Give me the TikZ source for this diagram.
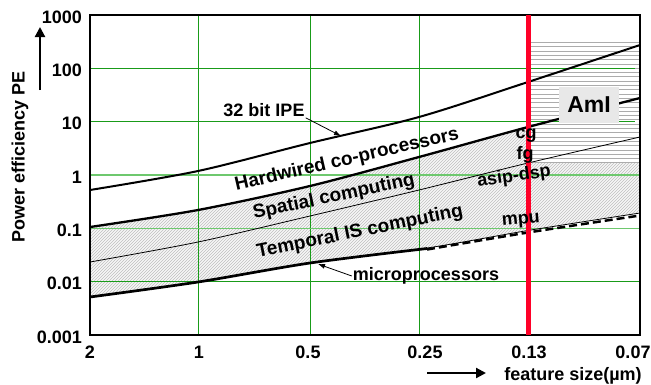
\documentclass[tikz,border=0pt]{standalone}
\usepackage{fontspec}
\setmainfont{Liberation Sans}
\usetikzlibrary{arrows,arrows.meta,patterns}

\definecolor{gridgreen}{RGB}{25,155,25}
\definecolor{litegreen}{RGB}{110,200,110}
\definecolor{amired}{RGB}{255,0,40}
\definecolor{amigray}{RGB}{232,232,232}

\tikzset{
  plotfont/.style={font=\fontsize{18}{20}\selectfont\bfseries},
  bandfont/.style={font=\fontsize{19}{21}\selectfont\bfseries, inner sep=0pt},
  ytick/.style={plotfont, anchor=east, inner sep=0pt},
  xtick/.style={plotfont, inner sep=0pt},
  gridline/.style={draw=gridgreen, line width=0.9pt},
  gridlite/.style={draw=litegreen, line width=1.6pt},
  hatchline/.style={draw=gray!65, line width=1pt},
  thickcurve/.style={line width=2.3pt},
  thincurve/.style={line width=0.8pt},
  pointer/.style={line width=0.8pt, -{Latex[length=7pt,width=5pt]}},
  axisarrow/.style={line width=2.2pt, -{Triangle[length=10pt,width=10pt]}}
}

\begin{document}
\begin{tikzpicture}[x=1pt,y=-1pt]
\useasboundingbox (0,0) rectangle (651,384);

% hatched band between spatial top and temporal bottom
\fill[fill=gray!6] plot[smooth] coordinates {(90,227) (198,210) (310,186) (419,157) (528,127) (640,98)}
  -- plot[smooth] coordinates {(640,213) (528,230.5) (427,248) (310,263) (198,282) (90,297)} -- cycle;
\fill[pattern=north east lines, pattern color=gray!50] plot[smooth] coordinates {(90,227) (198,210) (310,186) (419,157) (528,127) (640,98)}
  -- plot[smooth] coordinates {(640,213) (528,230.5) (427,248) (310,263) (198,282) (90,297)} -- cycle;

% AmI region
\fill[white] (531,42) rectangle (640,163);
\foreach \yy in {42.5,46.8,...,163}
  \draw[hatchline] (531,\yy) -- (640,\yy);

% grid
\foreach \xx in {198,310,419}
  \draw[gridline] (\xx,15) -- (\xx,335);
\draw[gridline] (90,68.3) -- (635,68.3);
\draw[gridline] (90,121.7) -- (635,121.7);
\draw[gridlite] (90,175) -- (640,175);
\draw[gridlite] (90,228.3) -- (640,228.3);
\draw[gridline] (90,281.7) -- (640,281.7);

% curves
\draw[line width=2pt] plot[smooth] coordinates {(90,190) (198,171) (310,143) (419,117) (528,82) (640,45)};
\draw[thickcurve] plot[smooth] coordinates {(90,227) (198,210) (310,186) (419,157) (528,127) (640,98)};
\draw[thincurve] plot[smooth] coordinates {(90,262) (198,242) (310,216) (419,190) (528,163) (640,137)};
\draw[thincurve] plot[smooth] coordinates {(90,297) (198,282) (310,263) (427,248) (528,230.5) (640,213)};
\draw[line width=2.7pt] plot[smooth] coordinates {(90,297) (198,282) (310,263) (427,248.5)};
\draw[line width=2.5pt, dash pattern=on 8pt off 4pt] plot[smooth] coordinates {(427,249.5) (528,232.5) (640,215.5)};

% frame and 0.13 marker
\draw[line width=2.6pt] (90,15) rectangle (640,335);
\draw[amired, line width=4.5pt] (528.5,15) -- (528.5,335);

% ticks
\foreach \lab [count=\i from 0] in {1000,100,10,1,0.1,0.01,0.001}
  \node[ytick] (yt\i) at (82,{17+53.333*\i}) {\lab};
\foreach \xx/\lab [count=\i from 0] in {90/2,199/1,308/0.5,425/0.25,529/0.13,633/0.07}
  \node[xtick] (xt\i) at (\xx,352) {\lab};

% axis titles
\node[plotfont, rotate=90, inner sep=0pt] (ylabel) at (20,157) {Power efficiency PE};
\coordinate (ybot) at (40,90);
\coordinate (ytop) at (40,27);
\draw[axisarrow] (ybot) -- (ytop);
\node[plotfont, inner sep=0pt] (xlabel) at (573,376) {feature size(µm)};
\coordinate (xleft) at (427,373);
\coordinate (xright) at (486,373);
\draw[axisarrow] (xleft) -- (xright);

% labels
\node[amigray, fill=amigray, minimum width=60pt, minimum height=36pt] (amibox) at (589,105) {};
\node[font=\fontsize{23}{25}\selectfont\bfseries] (ami) at (589,105) {AmI};
\node[bandfont, rotate=13] (hardwired) at (347,160) {Hardwired co-processors};
\node[bandfont, rotate=12] (spatial) at (334,197) {Spatial computing};
\node[bandfont, rotate=11.5] (temporal) at (360,232) {Temporal IS computing};
\node[plotfont, inner sep=1pt] (ipe) at (264,110) {32 bit IPE};
\node[plotfont, inner sep=1pt] (micro) at (426,276) {microprocessors};
\node[plotfont, rotate=5, inner sep=0pt] (mpu) at (521,221) {mpu};
\node[plotfont, inner sep=0pt] (cg) at (526,136) {cg};
\node[plotfont, inner sep=0pt] (fg) at (525,155) {fg};
\node[plotfont, rotate=8, inner sep=0pt] (asip) at (514,177) {asip-dsp};
\coordinate (ipetip) at (341,136);
\coordinate (microtip) at (318,264);
\draw[pointer] (ipe.south east) -- (ipetip);
\draw[pointer] (micro.west) -- (microtip);
\end{tikzpicture}
\end{document}
